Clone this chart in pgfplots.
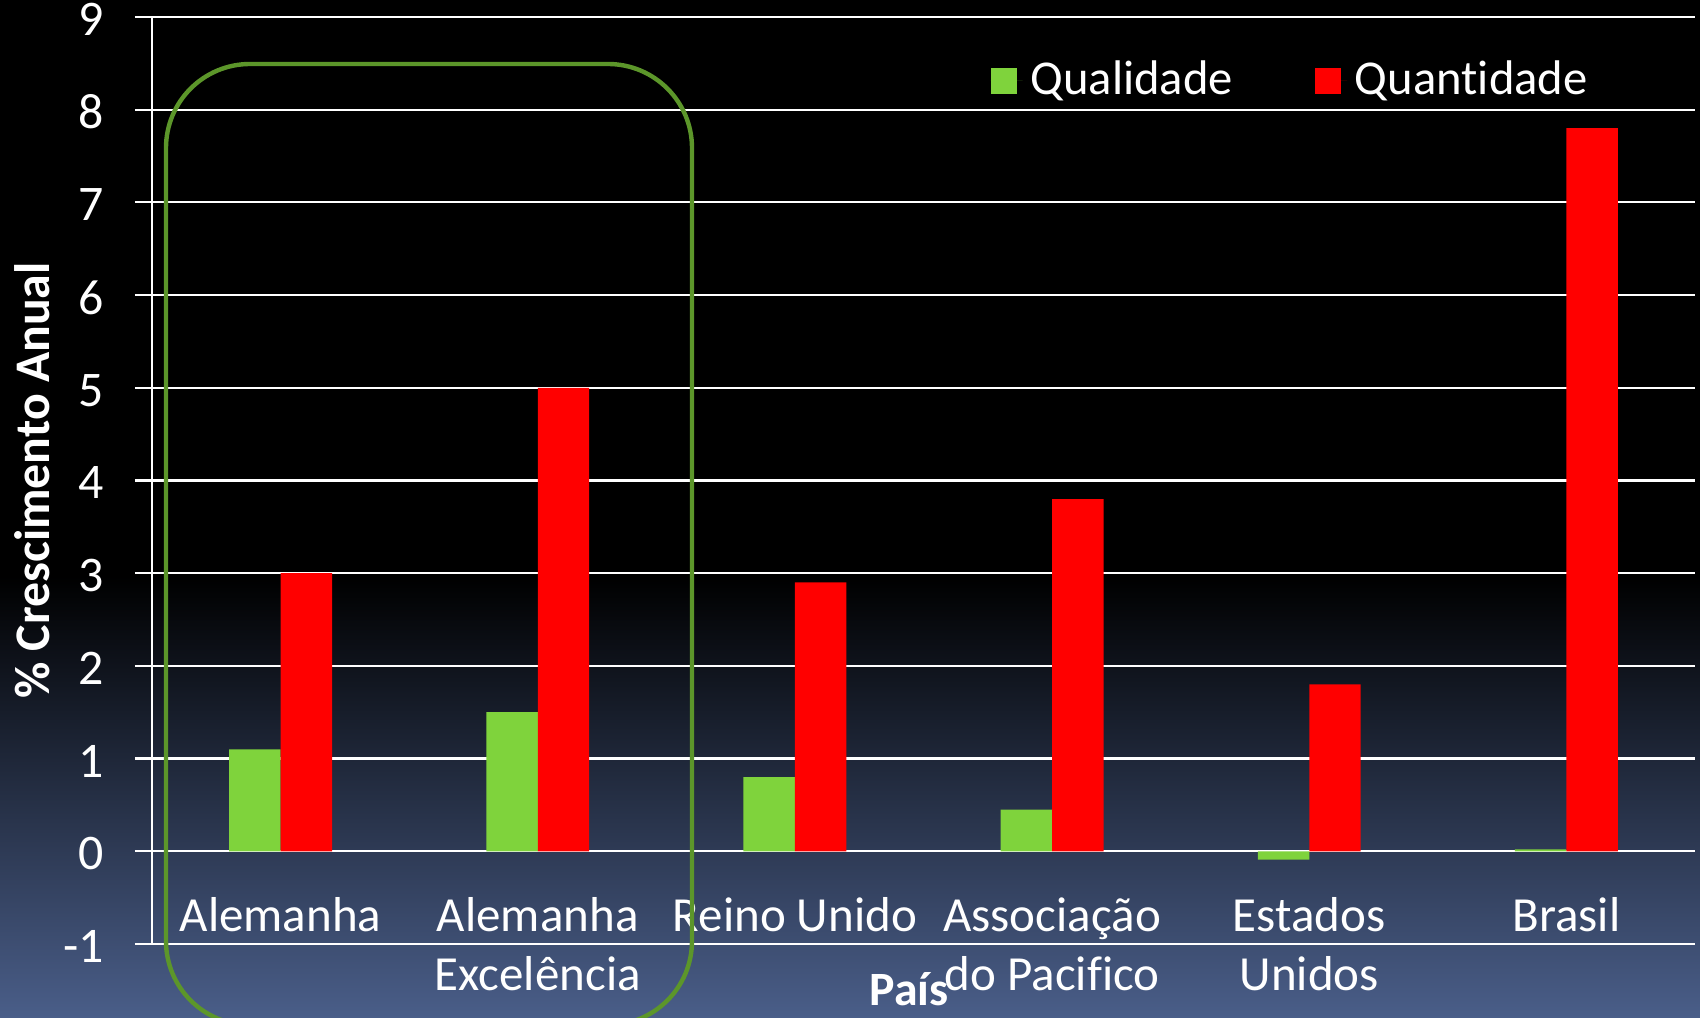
\documentclass[border=0pt]{standalone}
\usepackage{pgfplots}
\pgfplotsset{compat=1.18}
\usepackage{fontspec}
\setmainfont{Carlito}[Ligatures=NoCommon]
\definecolor{qualgreen}{RGB}{127,211,60}
\definecolor{quantred}{RGB}{255,0,0}
\definecolor{boxgreen}{RGB}{92,150,42}
\definecolor{bgbot}{RGB}{74,94,137}
\pgfdeclareverticalshading{bgshade}{100bp}{color(0bp)=(bgbot); color(25bp)=(bgbot); color(46.7bp)=(black); color(100bp)=(black)}
\newcommand{\two}[2]{\begin{tabular}[t]{@{}c@{}}#1\\#2\end{tabular}}
\begin{document}
\begin{tikzpicture}
\useasboundingbox (0,0) rectangle (425bp,254.5bp);
\shade[shading=bgshade] (0,0) rectangle (425bp,254.5bp);
\begin{axis}[
  at={(38bp,18.5bp)}, anchor=south west,
  scale only axis, width=385.75bp, height=231.75bp,
  xmin=-0.5, xmax=5.5, ymin=-1, ymax=9,
  ytick={-1,0,...,9},
  xtick={0,...,5},
  xticklabels={Alemanha,{\two{Alemanha}{Excelência}},Reino Unido,{\two{Associação}{do Pacifico}},{\two{Estados}{Unidos}},Brasil},
  axis lines=left,
  axis line style={-, white, line width=0.55bp},
  x axis line style={draw=none},
  ymajorgrids, grid style={white, line width=0.55bp},
  tick align=outside, major tick length=4.25bp,
  ytick style={white, line width=0.55bp},
  xtick style={draw=none},
  /pgf/number format/assume math mode=true,
  yticklabel style={font=\fontsize{12.5}{14}\selectfont, text=white, anchor=east, inner xsep=0pt, xshift=-7.5bp, yshift=-0.6bp},
  xticklabel style={font=\fontsize{12.3}{14.75}\selectfont, text=white, anchor=base, yshift=7.3bp},
  ylabel={\% Crescimento Anual},
  ylabel style={font=\bfseries\fontsize{12.5}{14}\selectfont, text=white, at={(axis description cs:-0.0775,0.5)}, anchor=center},
  xlabel={País},
  xlabel style={font=\bfseries\fontsize{12}{14}\selectfont, text=white, at={(axis description cs:0.4906,-0.0485)}, anchor=center},
  legend columns=2,
  legend style={at={(axis description cs:0.543,0.931)}, anchor=west, draw=none, fill=none, text=white, font=\fontsize{12.2}{14}\selectfont, inner sep=0pt, /tikz/every even column/.append style={column sep=18.5bp}},
  clip=false,
]
\addplot[ybar, bar width=0.2, bar shift=-0.1, fill=qualgreen, draw=none,
  legend image code/.code={\fill[qualgreen] (0bp,-3.25bp) rectangle (6.5bp,3.25bp); \path (0bp,0bp) -- (8bp,0bp);}]
  coordinates {(0,1.1) (1,1.5) (2,0.8) (3,0.45) (4,-0.09) (5,0.02)};
\addlegendentry{Qualidade}
\addplot[ybar, bar width=0.2, bar shift=0.1, fill=quantred, draw=none,
  legend image code/.code={\fill[quantred] (0bp,-3.25bp) rectangle (6.5bp,3.25bp); \path (0bp,0bp) -- (8bp,0bp);}]
  coordinates {(0,3.0) (1,5.0) (2,2.9) (3,3.8) (4,1.8) (5,7.8)};
\addlegendentry{Quantidade}
\end{axis}
\begin{scope}
\clip (0,0) rectangle (425bp,254.5bp);
\draw[boxgreen, line width=1.1bp, rounded corners=21bp] (41.5bp,-1.75bp) rectangle (173bp,238.5bp);
\end{scope}
\end{tikzpicture}
\end{document}
